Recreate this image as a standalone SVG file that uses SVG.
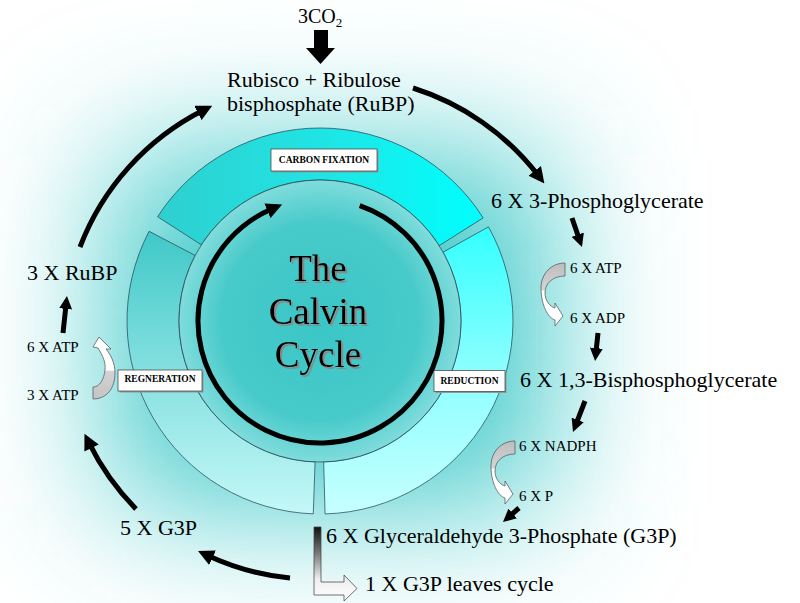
<svg xmlns="http://www.w3.org/2000/svg" xmlns:xlink="http://www.w3.org/1999/xlink" width="800" height="603" viewBox="0 0 800 603">
<defs>
<style>
.t{font-family:"Liberation Serif","Times New Roman",serif;fill:#000;}
.big{font-size:22px;}
.sm{font-size:15px;}
.lab{font-family:"Liberation Serif","Times New Roman",serif;font-size:9.5px;font-weight:bold;text-anchor:middle;}
.box{fill:#fff;stroke:#444;stroke-width:0.75;}
.shd{fill:#8a9a9a;}
.seg{stroke:#2a4a55;stroke-width:0.75;}
.arc{fill:none;stroke:#000;stroke-width:5;}
.cur{stroke:#555;stroke-width:0.75;}
.title{font-family:"Liberation Serif","Times New Roman",serif;font-size:37px;text-anchor:middle;}
</style>
<filter id="tshadow" x="-10%" y="-10%" width="130%" height="140%">
<feOffset in="SourceAlpha" dx="2" dy="2" result="o"/>
<feFlood flood-color="#8a8a8a"/>
<feComposite in2="o" operator="in" result="s"/>
<feMerge><feMergeNode in="s"/><feMergeNode in="SourceGraphic"/></feMerge>
</filter>
<filter id="glow" filterUnits="userSpaceOnUse" x="-300" y="-300" width="1400" height="1200">
<feGaussianBlur stdDeviation="70"/>
</filter>
<linearGradient id="gCF" x1="0" y1="0" x2="1" y2="0">
<stop offset="0" stop-color="#2fcfcf"/><stop offset="0.5" stop-color="#20e4e4"/><stop offset="1" stop-color="#00ffff"/>
</linearGradient>
<linearGradient id="gRed" x1="0" y1="0" x2="0" y2="1">
<stop offset="0" stop-color="#33ffff"/><stop offset="0.5" stop-color="#8cffff"/><stop offset="1" stop-color="#c6ffff"/>
</linearGradient>
<linearGradient id="gReg" x1="0" y1="0" x2="0" y2="1">
<stop offset="0" stop-color="#40c8c8"/><stop offset="0.5" stop-color="#86e0e0"/><stop offset="1" stop-color="#c4f8f8"/>
</linearGradient>
<radialGradient id="gIn" cx="0.5" cy="0.5" r="0.5">
<stop offset="0" stop-color="#3ac6c6"/><stop offset="0.7" stop-color="#48caca"/><stop offset="1" stop-color="#80dcdc"/>
</radialGradient>
<linearGradient id="gCurR" x1="0" y1="0" x2="0" y2="1">
<stop offset="0" stop-color="#bdbdbd"/><stop offset="0.42" stop-color="#d4d4d4"/><stop offset="0.45" stop-color="#ffffff"/><stop offset="1" stop-color="#ffffff"/>
</linearGradient>
<linearGradient id="gCurL" x1="0" y1="0" x2="0" y2="1">
<stop offset="0" stop-color="#ffffff"/><stop offset="0.53" stop-color="#ffffff"/><stop offset="0.56" stop-color="#d2d2d2"/><stop offset="1" stop-color="#c4c4c4"/>
</linearGradient>
<linearGradient id="gBent" x1="0" y1="0" x2="0" y2="1">
<stop offset="0" stop-color="#111"/><stop offset="0.35" stop-color="#777"/><stop offset="0.7" stop-color="#eee"/><stop offset="1" stop-color="#fff"/>
</linearGradient>
<marker id="ah" markerUnits="userSpaceOnUse" markerWidth="13" markerHeight="13" viewBox="0 0 13 13" refX="3" refY="6.5" orient="auto">
<path d="M0,0 L13,6.5 L0,13 Z" fill="#000"/>
</marker>
<marker id="ahL" markerUnits="userSpaceOnUse" markerWidth="16" markerHeight="16" viewBox="0 0 16 16" refX="6" refY="8" orient="auto">
<path d="M0,0 L16,8 L0,16 Z" fill="#000"/>
</marker>
<path id="curR" d="M565,263 C551,263 541,274 541,288 C541,305 548,318 555,320 L555,326 L563,316 L555,303 L555,308 C549,306 545,300 545,293 C545,283 553,276 565,276 Z"/>
</defs>

<g id="background">
<rect x="0" y="0" width="800" height="603" fill="#ffffff"/>
<rect x="115" y="155" width="430" height="350" fill="#3cc9c9" filter="url(#glow)"/>
</g>

<g id="ring">
<path class="seg" fill="url(#gCF)" d="M157.59,216.74 A193,193 0 0 1 483.14,217.86 L439.19,245.65 A141,141 0 0 0 201.35,244.83 Z"/>
<path class="seg" fill="url(#gRed)" d="M488.47,226.84 A193,193 0 0 1 325.05,513.93 L323.69,461.95 A141,141 0 0 0 443.08,252.21 Z"/>
<path class="seg" fill="url(#gReg)" d="M313.26,513.88 A193,193 0 0 1 149.12,231.29 L195.16,255.46 A141,141 0 0 0 315.08,461.91 Z"/>
<circle cx="320" cy="321" r="141" fill="url(#gIn)" stroke="#2a4a55" stroke-width="0.75"/>
</g>

<g id="cycle-arrow">
<path class="arc" d="M359.72,205.65 A122,122 0 1 1 272.92,208.45" marker-end="url(#ahL)"/>
</g>

<g id="title" filter="url(#tshadow)">
<text class="title" x="318" y="281">The</text>
<text class="title" x="318" y="324">Calvin</text>
<text class="title" x="318" y="367">Cycle</text>
</g>

<g id="label-carbon-fixation">
<rect class="shd" x="272.5" y="150.5" width="106" height="22"/>
<rect class="box" x="271" y="149" width="106" height="22"/>
<text class="lab" x="324" y="162.5">CARBON FIXATION</text>
</g>
<g id="label-reduction">
<rect class="shd" x="435.5" y="372" width="71" height="21"/>
<rect class="box" x="434" y="370.5" width="71" height="21"/>
<text class="lab" x="469.5" y="383.5">REDUCTION</text>
</g>
<g id="label-regeneration">
<rect class="shd" x="119.5" y="371.5" width="84" height="21"/>
<rect class="box" x="118" y="370" width="84" height="21"/>
<text class="lab" x="160" y="382">REGNERATION</text>
</g>

<g id="co2">
<text class="t" x="298" y="23" font-size="20">3CO<tspan font-size="13" dy="4">2</tspan></text>
</g>
<g id="rubp-complex">
<text class="t big" x="227" y="87">Rubisco + Ribulose</text>
<text class="t big" x="227" y="111">bisphosphate (RuBP)</text>
</g>
<g id="pga">
<text class="t big" x="491" y="208">6 X 3-Phosphoglycerate</text>
</g>
<g id="atp-adp">
<use xlink:href="#curR" href="#curR" fill="url(#gCurR)" class="cur"/>
<text class="t sm" x="570" y="273">6 X ATP</text>
<text class="t sm" x="570" y="323">6 X ADP</text>
</g>
<g id="bpg">
<text class="t big" x="520" y="387">6 X 1,3-Bisphosphoglycerate</text>
</g>
<g id="nadph-p">
<use xlink:href="#curR" href="#curR" transform="translate(-50,178)" fill="url(#gCurR)" class="cur"/>
<text class="t sm" x="519" y="451">6 X NADPH</text>
<text class="t sm" x="519" y="501">6 X P</text>
</g>
<g id="g3p">
<text class="t big" x="326" y="543">6 X Glyceraldehyde 3-Phosphate (G3P)</text>
</g>
<g id="g3p-leaves">
<path d="M314,527 L321,527 L321,582 L344,582 L344,575 L357,588.5 L344,601 L344,595 L314,595 Z" fill="url(#gBent)" stroke="#444" stroke-width="0.75"/>
<text class="t big" x="365" y="591">1 X G3P leaves cycle</text>
</g>
<g id="five-g3p">
<text class="t big" x="120" y="535">5 X G3P</text>
</g>
<g id="atp-regen">
<path class="cur" fill="url(#gCurL)" d="M93,399 C107,399 115,388 115,373 C115,362 110,354 106,349 L111,349 L99,337 L93,347 L98,348 C103,356 106,363 105,370 C104,379 100,387 93,387 Z"/>
<text class="t sm" x="27" y="352">6 X ATP</text>
<text class="t sm" x="27" y="400">3 X ATP</text>
</g>
<g id="three-rubp">
<text class="t big" x="27" y="280">3 X RuBP</text>
</g>

<g id="connectors">
<polygon points="314,30 328,30 328,48 335,48 320.5,64 306,48 314,48" fill="#000"/>
<path class="arc" d="M413,88 A255,255 0 0 1 538.3,175.6" marker-end="url(#ahL)"/>
<path class="arc" d="M80,247 A255,255 0 0 1 203.3,110.3" marker-end="url(#ahL)"/>
<path class="arc" d="M136,509 A255,255 0 0 1 88.9,442.7" marker-end="url(#ahL)"/>
<path class="arc" d="M290,578 A255,255 0 0 1 207.1,555.2" marker-end="url(#ahL)"/>
<path class="arc" d="M572,218 L578.7,237.5" marker-end="url(#ah)"/>
<path class="arc" d="M598,333 L596.1,351.1" marker-end="url(#ah)"/>
<path class="arc" d="M585,401 L576.6,422.7" marker-end="url(#ah)"/>
<path class="arc" d="M519,508 L510.5,515.4" marker-end="url(#ah)"/>
<path class="arc" d="M63,333 L65.9,305.9" marker-end="url(#ah)"/>
</g>
</svg>
